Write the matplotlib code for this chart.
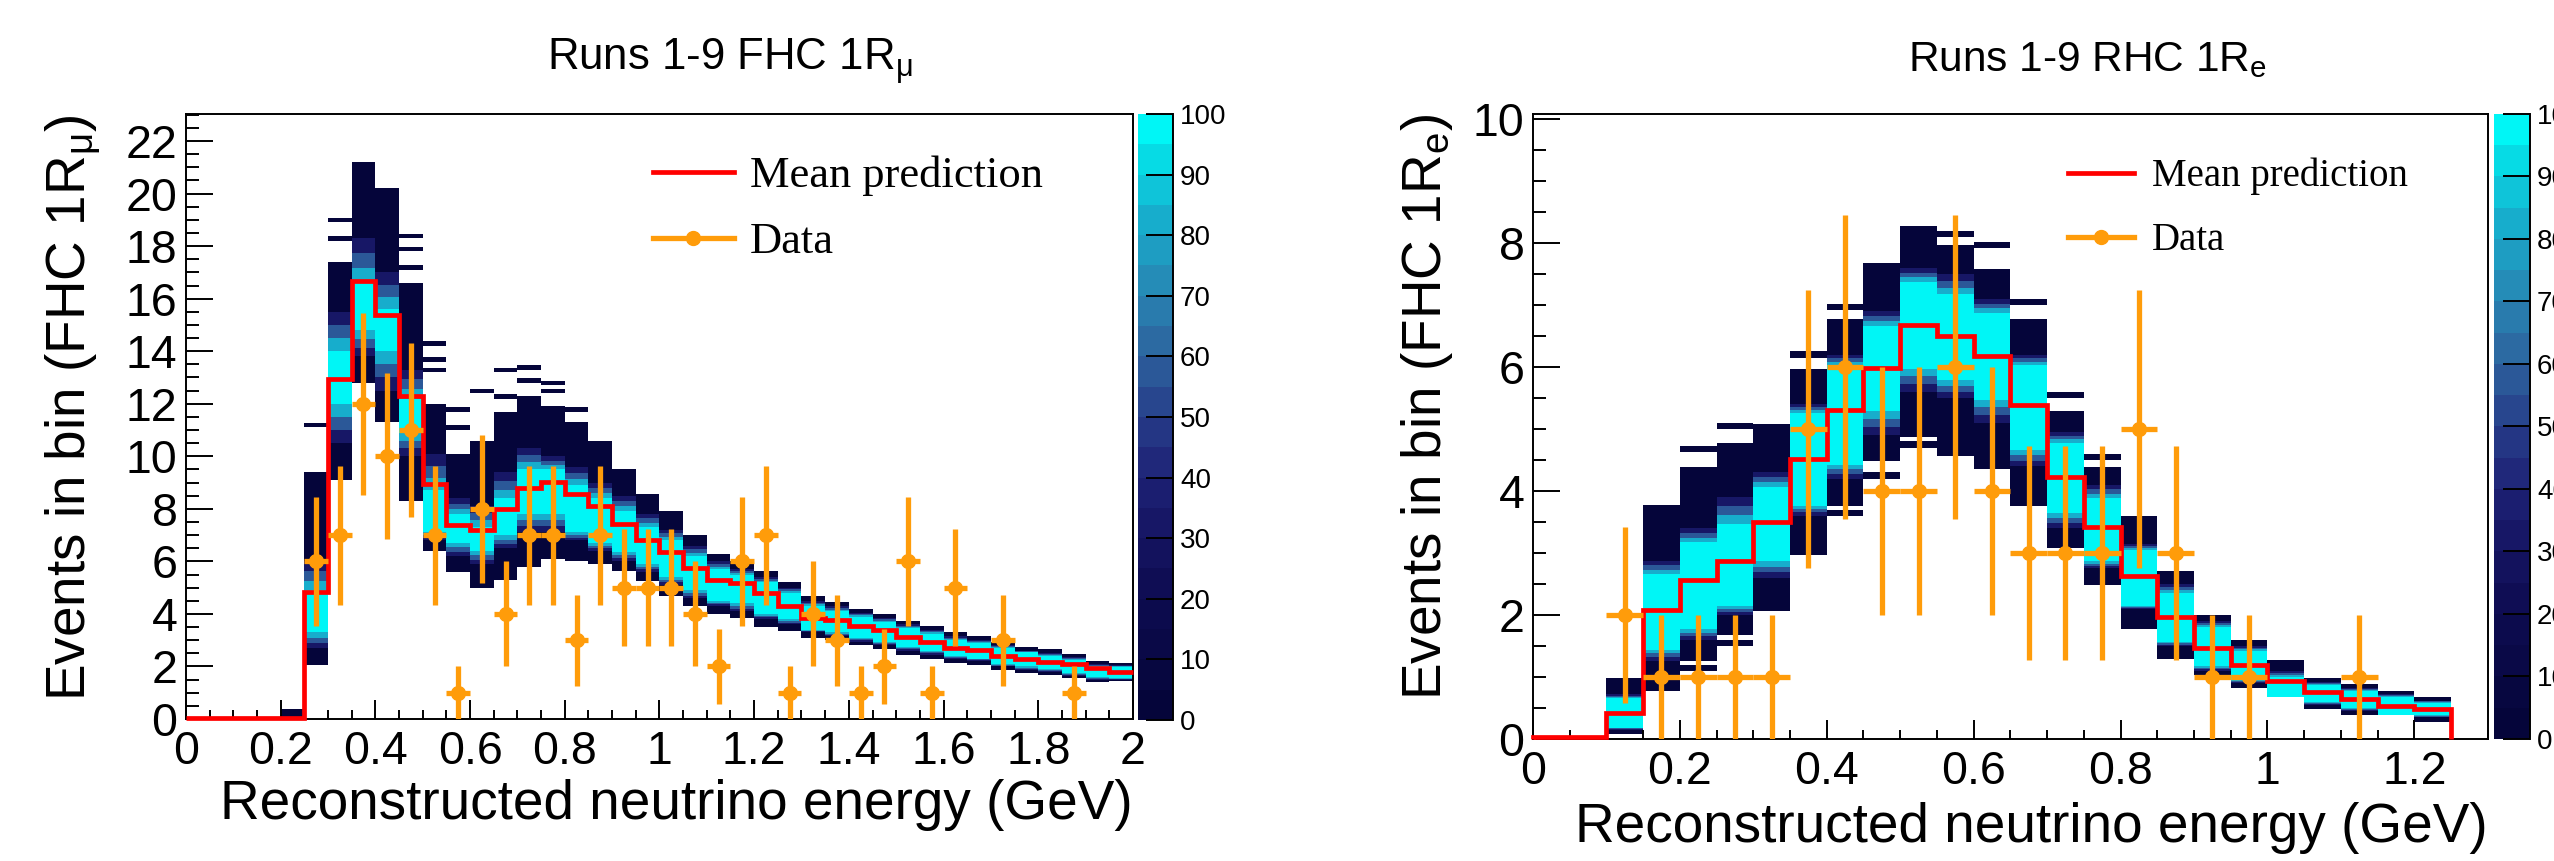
import numpy as np
import matplotlib
matplotlib.use("Agg")
import matplotlib.pyplot as plt
from matplotlib.colors import LinearSegmentedColormap, Normalize
from matplotlib.lines import Line2D
from matplotlib.ticker import MultipleLocator, FuncFormatter
import matplotlib.cm as cm

plt.rcParams['font.family'] = ['Liberation Sans', 'DejaVu Sans']
plt.rcParams['mathtext.fontset'] = 'custom'
plt.rcParams['mathtext.rm'] = 'Liberation Sans'
plt.rcParams['mathtext.it'] = 'Liberation Sans:italic'
plt.rcParams['mathtext.bf'] = 'Liberation Sans:bold'

nan = np.nan

# ---- FHC 1R mu (left) : 40 bins of 0.05 GeV from 0 to 2 ----
fhc_edges = np.round(np.arange(0, 2.0001, 0.05), 3)
fhc_mean = [0.02, 0.02, 0.02, 0.02, 0.02, 4.83, 12.95, 16.66, 15.38, 12.29,
            8.93, 7.40, 7.19, 8.01, 8.80, 9.01, 8.55, 8.09, 7.43, 6.83,
            6.36, 5.76, 5.28, 5.17, 4.78, 4.31, 3.83, 3.76, 3.55, 3.38,
            3.13, 2.93, 2.72, 2.61, 2.40, 2.28, 2.17, 2.09, 1.94, 1.79]
fhc_data = [0, 0, 0, 0, 0, 6, 7, 12, 10, 11,
            7, 1, 8, 4, 7, 7, 3, 7, 5, 5,
            5, 4, 2, 6, 7, 1, 4, 3, 1, 2,
            6, 1, 5, 0, 3, 0, 0, 1, 0, 0]
# posterior predictive band edges per bin (outer / blue / cyan core)
fhc_out_lo = [nan, nan, nan, nan, 0.05, 2.05, 9.1, 12.8, 11.3, 8.3,
              6.4, 5.6, 5.0, 5.3, 5.8, 6.1, 6.0, 5.9, 5.65, 5.25,
              4.7, 4.3, 4.0, 3.85, 3.5, 3.35, 3.1, 3.0, 2.8, 2.65,
              2.45, 2.3, 2.15, 2.05, 1.85, 1.74, 1.67, 1.55, 1.42, 1.45]
fhc_out_hi = [nan, nan, nan, nan, 0.40, 9.4, 17.4, 21.2, 20.2, 16.6,
              12.0, 10.1, 10.6, 11.7, 12.3, 11.9, 11.3, 10.6, 9.5, 8.55,
              7.9, 7.0, 6.3, 6.0, 5.65, 5.2, 4.7, 4.45, 4.2, 4.0,
              3.75, 3.55, 3.3, 3.15, 2.95, 2.75, 2.65, 2.46, 2.2, 2.12]
fhc_mid_lo = [nan, nan, nan, nan, nan, 2.7, 10.5, 13.8, 12.5, 10.0,
              6.8, 6.2, 5.9, 6.5, 7.1, 7.1, 6.8, 6.4, 6.0, 5.6,
              5.1, 4.6, 4.3, 4.1, 3.8, 3.6, 3.3, 3.15, 2.95, 2.8,
              2.6, 2.45, 2.3, 2.2, 2.0, 1.85, 1.8, 1.65, 1.5, 1.5]
fhc_mid_hi = [nan, nan, nan, nan, nan, 6.0, 15.5, 18.3, 17.0, 13.3,
              10.1, 8.4, 8.1, 9.4, 10.3, 10.0, 9.6, 9.0, 8.5, 7.8,
              7.2, 6.6, 6.0, 5.7, 5.4, 5.0, 4.5, 4.3, 4.05, 3.85,
              3.6, 3.4, 3.15, 3.0, 2.8, 2.6, 2.5, 2.35, 2.1, 2.05]
fhc_core_lo = [nan, nan, nan, nan, nan, 3.3, 12.0, 14.8, 14.0, 10.9,
               7.1, 6.7, 6.4, 7.0, 7.8, 7.8, 7.1, 6.7, 6.35, 5.9,
               5.4, 4.9, 4.5, 4.4, 4.0, 3.8, 3.4, 3.3, 3.1, 2.95,
               2.75, 2.6, 2.4, 2.3, 2.1, 2.0, 1.9, 1.75, 1.6, 1.55]
fhc_core_hi = [nan, nan, nan, nan, nan, 4.9, 14.0, 16.6, 15.6, 12.2,
               8.7, 7.8, 7.3, 8.4, 9.5, 9.5, 8.9, 8.4, 7.9, 7.3,
               6.8, 6.2, 5.7, 5.5, 5.2, 4.8, 4.3, 4.1, 3.9, 3.7,
               3.45, 3.25, 3.0, 2.9, 2.7, 2.55, 2.4, 2.25, 2.0, 1.99]
# isolated throws above / below the band (bin low edge, value)
fhc_stray_x = [0.25, 0.30, 0.30, 0.45, 0.45, 0.45, 0.50, 0.50, 0.50, 0.55,
               0.55, 0.60, 0.65, 0.65, 0.70, 0.70, 0.75, 0.75, 0.80]
fhc_stray_y = [11.1, 18.9, 18.2, 18.3, 17.8, 17.1, 14.2, 13.6, 13.2, 11.7,
               11.0, 12.4, 13.2, 12.2, 13.3, 12.8, 12.7, 12.4, 11.7]

# ---- RHC 1R e (right) : 25 bins of 0.05 GeV from 0 to 1.25 ----
rhc_edges = np.round(np.arange(0, 1.2501, 0.05), 3)
rhc_mean = [0.03, 0.03, 0.42, 2.08, 2.57, 2.87, 3.50, 4.51, 5.30, 5.98,
            6.67, 6.50, 6.18, 5.39, 4.22, 3.42, 2.63, 1.97, 1.47, 1.20,
            0.93, 0.76, 0.64, 0.54, 0.48]
rhc_data = [0, 0, 2, 1, 1, 1, 1, 5, 6, 4,
            4, 6, 4, 3, 3, 3, 5, 3, 1, 1,
            0, 0, 1, 0, 0]
rhc_out_lo = [0.0, 0.0, 0.08, 0.78, 1.26, 1.68, 2.06, 2.96, 3.76, 4.48,
              4.87, 4.57, 4.36, 3.76, 3.08, 2.48, 1.77, 1.29, 1.04, 0.82,
              0.68, 0.48, 0.39, 0.39, 0.28]
rhc_out_hi = [0.05, 0.05, 0.99, 3.78, 4.39, 4.78, 5.08, 5.97, 6.78, 7.67,
              8.27, 7.97, 7.58, 6.78, 5.29, 4.39, 3.59, 2.71, 2.0, 1.6,
              1.28, 0.99, 0.89, 0.78, 0.68]
rhc_mid_lo = [0.0, 0.0, 0.15, 1.26, 1.6, 2.0, 2.6, 3.6, 4.2, 4.9,
              5.6, 5.5, 5.1, 4.4, 3.4, 2.75, 2.1, 1.5, 1.1, 0.9,
              0.68, 0.55, 0.45, 0.39, 0.35]
rhc_mid_hi = [0.05, 0.05, 0.72, 2.87, 3.4, 3.9, 4.3, 5.4, 6.2, 6.9,
              7.6, 7.5, 7.1, 6.2, 4.95, 4.1, 3.15, 2.5, 1.9, 1.5,
              1.1, 0.92, 0.82, 0.72, 0.62]
rhc_core_lo = [0.0, 0.0, 0.18, 1.44, 1.77, 2.15, 2.87, 3.76, 4.42, 5.29,
               5.97, 5.79, 5.47, 4.66, 3.65, 2.87, 2.15, 1.57, 1.17, 0.95,
               0.68, 0.6, 0.5, 0.39, 0.38]
rhc_core_hi = [0.05, 0.05, 0.66, 2.66, 3.17, 3.47, 4.06, 5.26, 6.03, 6.66,
               7.37, 7.17, 6.87, 6.03, 4.78, 3.88, 3.05, 2.36, 1.8, 1.42,
               1.0, 0.87, 0.78, 0.68, 0.58]
rhc_stray_x = [0.20, 0.20, 0.25, 0.25, 0.35, 0.40, 0.40, 0.45, 0.50, 0.55,
               0.60, 0.65, 0.70, 0.75]
rhc_stray_y = [4.63, 1.1, 5.0, 1.5, 6.15, 6.92, 3.6, 4.2, 4.7, 8.1,
               7.92, 7.0, 5.5, 4.5]

# palette: dark navy -> cyan, 20 steps, 0..100
pal = LinearSegmentedColormap.from_list(
    'pal', [(0.0, '#05053a'), (0.2, '#0e0c52'), (0.35, '#1a1a6c'),
            (0.45, '#222e80'), (0.55, '#2a4e92'), (0.65, '#2c70a6'),
            (0.75, '#2490ba'), (0.85, '#16b0ce'), (0.95, '#06dce6'),
            (1.0, '#00f6f6')], N=20)
norm = Normalize(0, 100)
orange = '#ff9c0a'
fmt = FuncFormatter(lambda v, p: f'{v:g}')


def band(ax, edges, lo, hi, z):
    lo = np.asarray(lo, float)
    hi = np.asarray(hi, float)
    ok = np.isfinite(lo) & np.isfinite(hi)
    left = edges[:-1][ok]
    ax.bar(left, (hi - lo)[ok], bottom=lo[ok], width=0.05, align='edge',
           color=pal(norm(z)), lw=0, zorder=1)


def draw(ax, edges, mean, data, olo, ohi, mlo, mhi, clo, chi, sx, sy,
         stray_h, drop_end):
    band(ax, edges, olo, ohi, 3)
    mlo, mhi = np.asarray(mlo, float), np.asarray(mhi, float)
    clo, chi = np.asarray(clo, float), np.asarray(chi, float)
    for f, z in [(0.0, 30), (1 / 3, 55), (2 / 3, 80)]:
        band(ax, edges, mlo + f * (clo - mlo), mhi + f * (chi - mhi), z)
    band(ax, edges, clo, chi, 100)
    ax.bar(sx, stray_h, bottom=sy, width=0.05, align='edge',
           color=pal(norm(3)), lw=0, zorder=1)
    ax.stairs(mean, edges, color='red', lw=3.4, zorder=3, clip_on=False,
              baseline=0 if drop_end else None)
    centers = 0.5 * (edges[:-1] + edges[1:])
    data = np.asarray(data, float)
    m = data > 0
    ax.errorbar(centers[m], data[m], yerr=np.sqrt(data[m]), xerr=0.025,
                fmt='o', color=orange, ms=10, elinewidth=3.8, capsize=0,
                zorder=4)


def style(ax, xmax, ymax, xmaj, ymaj):
    ax.set_xlim(0, xmax)
    ax.set_ylim(0, ymax)
    ax.xaxis.set_major_locator(MultipleLocator(xmaj))
    ax.xaxis.set_minor_locator(MultipleLocator(0.05))
    ax.yaxis.set_major_locator(MultipleLocator(ymaj))
    ax.yaxis.set_minor_locator(MultipleLocator(0.5))
    ax.xaxis.set_major_formatter(fmt)
    ax.yaxis.set_major_formatter(fmt)
    ax.tick_params(axis='both', which='both', direction='in', top=False,
                   right=False, width=1.4, labelsize=33.5)
    ax.tick_params(axis='x', which='major', length=13.5, pad=8)
    ax.tick_params(axis='x', which='minor', length=6.5)
    ax.tick_params(axis='y', which='major', length=19.5, pad=6)
    ax.tick_params(axis='y', which='minor', length=9.7)
    for s in ax.spines.values():
        s.set_linewidth(1.4)


def pbar(fig, rect):
    cax = fig.add_axes(rect)
    cb = fig.colorbar(cm.ScalarMappable(norm=norm, cmap=pal), cax=cax)
    cb.outline.set_visible(False)
    cb.set_ticks(np.arange(0, 101, 10))
    cax.tick_params(direction='in', length=19.5, width=1.4, labelsize=20,
                    pad=5)
    cax.plot([1, 1], [0, 1], color='black', lw=1.4,
             transform=cax.transAxes, clip_on=False)
    return cb


fig = plt.figure(figsize=(25.54, 8.61), dpi=100)

# left panel
ax1 = fig.add_axes([0.0728, 0.1649, 0.3708, 0.7027])
draw(ax1, fhc_edges, fhc_mean, fhc_data, fhc_out_lo, fhc_out_hi,
     fhc_mid_lo, fhc_mid_hi, fhc_core_lo, fhc_core_hi,
     fhc_stray_x, fhc_stray_y, 0.18, False)
style(ax1, 2.0, 23.03, 0.2, 2)
ax1.set_xlabel('Reconstructed neutrino energy (GeV)', fontsize=39.5, loc='right')
ax1.xaxis.set_label_coords(1.0, -0.099)
ax1.set_ylabel(r'Events in bin (FHC 1R$_\mathrm{μ}$)', fontsize=39.5, loc='top')
ax1.yaxis.set_label_coords(-0.088, 1.0)
h = [Line2D([], [], color='red', lw=3.4),
     Line2D([], [], color=orange, lw=3.8, marker='o', ms=10)]
ax1.legend(h, ['Mean prediction', 'Data'], loc='upper left',
           bbox_to_anchor=(0.493, 0.931), frameon=False, borderpad=0,
           borderaxespad=0, handlelength=1.83, handletextpad=0.36,
           labelspacing=0.58, prop={'family': 'Liberation Serif', 'size': 32})
pbar(fig, [0.4456, 0.1638, 0.0137, 0.7038])
fig.text(730 / 2554, 1 - 71 / 861, r'Runs 1-9 FHC 1R$_\mathrm{μ}$',
         fontsize=31.5, ha='center', va='baseline')

# right panel
ax2 = fig.add_axes([0.6002, 0.1417, 0.3739, 0.7259])
draw(ax2, rhc_edges, rhc_mean, rhc_data, rhc_out_lo, rhc_out_hi,
     rhc_mid_lo, rhc_mid_hi, rhc_core_lo, rhc_core_hi,
     rhc_stray_x, rhc_stray_y, 0.1, True)
style(ax2, 1.3, 10.08, 0.2, 2)
ax2.set_xlabel('Reconstructed neutrino energy (GeV)', fontsize=39.5, loc='right')
ax2.xaxis.set_label_coords(1.0, -0.1008)
ax2.set_ylabel(r'Events in bin (FHC 1R$_\mathrm{e}$)', fontsize=39.5, loc='top')
ax2.yaxis.set_label_coords(-0.082, 1.0)
ax2.legend(h, ['Mean prediction', 'Data'], loc='upper left',
           bbox_to_anchor=(0.560, 0.930), frameon=False, borderpad=0,
           borderaxespad=0, handlelength=1.70, handletextpad=0.46,
           labelspacing=0.70, prop={'family': 'Liberation Serif', 'size': 28})
pbar(fig, [0.9765, 0.1417, 0.0141, 0.7259])
fig.text(2087 / 2554, 1 - 71 / 861, r'Runs 1-9 RHC 1R$_\mathrm{e}$',
         fontsize=30.5, ha='center', va='baseline')

fig.savefig('out.png', dpi=100)
